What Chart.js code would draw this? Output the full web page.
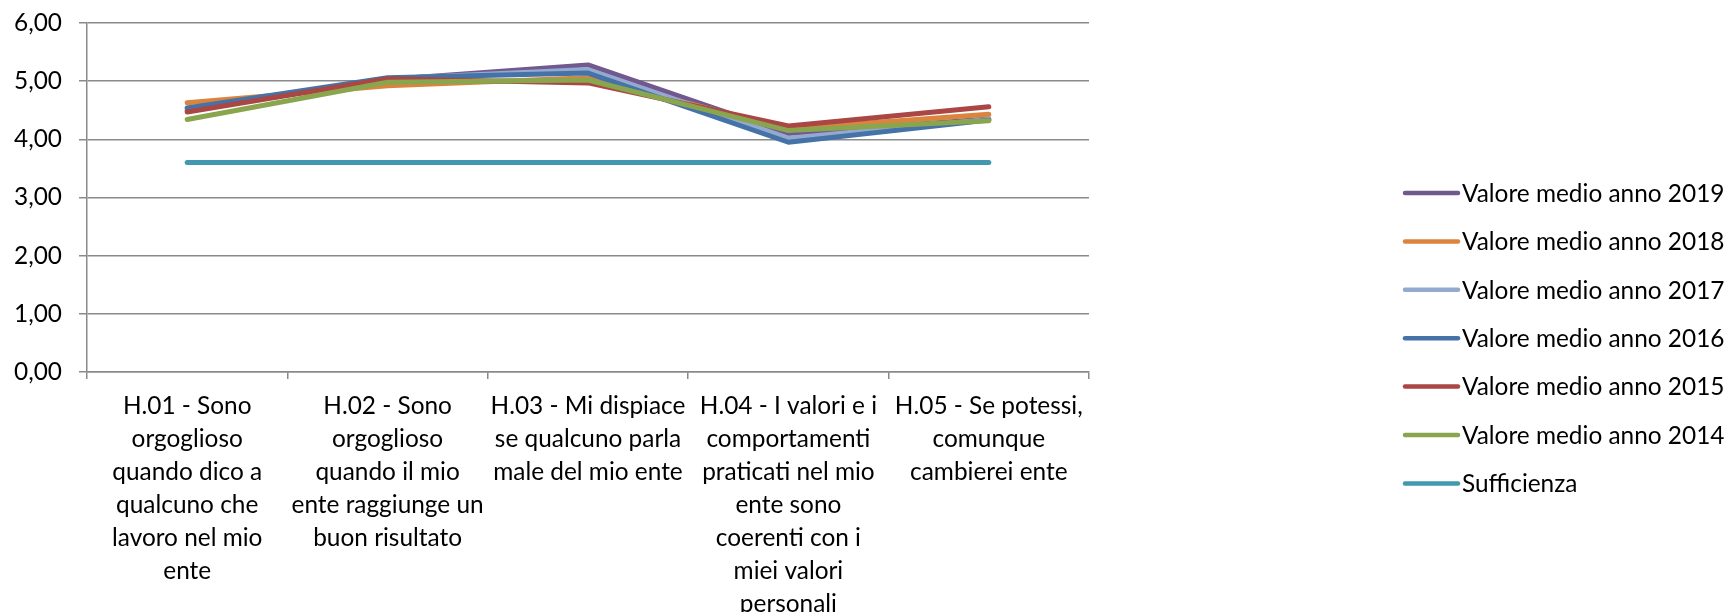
<!DOCTYPE html>
<html>
<head>
<meta charset="utf-8">
<script src="https://cdn.jsdelivr.net/npm/chart.js@4"></script>
<style>
  body { margin: 0; background: #fff; }
  canvas { display: block; }
</style>
</head>
<body>
<canvas id="chart" width="1733" height="612"></canvas>
<script>
// categories (multi-line labels as in the original)
const categories = [
  ['H.01 - Sono', 'orgoglioso', 'quando dico a', 'qualcuno che', 'lavoro nel mio', 'ente'],
  ['H.02 - Sono', 'orgoglioso', 'quando il mio', 'ente raggiunge un', 'buon risultato'],
  ['H.03 - Mi dispiace', 'se qualcuno parla', 'male del mio ente'],
  ['H.04 - I valori e i', 'comportamenti', 'praticati nel mio', 'ente sono', 'coerenti con i', 'miei valori', 'personali'],
  ['H.05 - Se potessi,', 'comunque', 'cambierei ente']
];

const seriesLabels = [
  'Valore medio anno 2019',
  'Valore medio anno 2018',
  'Valore medio anno 2017',
  'Valore medio anno 2016',
  'Valore medio anno 2015',
  'Valore medio anno 2014',
  'Sufficienza'
];

const values2019 = [4.50, 5.03, 5.28, 4.10, 4.35];
const values2018 = [4.63, 4.92, 5.06, 4.18, 4.43];
const values2017 = [4.53, 5.04, 5.20, 4.02, 4.34];
const values2016 = [4.54, 5.06, 5.14, 3.95, 4.33];
const values2015 = [4.47, 5.04, 4.97, 4.23, 4.56];
const values2014 = [4.34, 4.98, 5.02, 4.15, 4.32];
const sufficienza = [3.60, 3.60, 3.60, 3.60, 3.60];

const yTicks = [0, 1, 2, 3, 4, 5, 6];

const colors = ['#71588F', '#DB843D', '#93A9CF', '#4572A7', '#AA4643', '#89A54E', '#4198AF'];
const allValues = [values2019, values2018, values2017, values2016, values2015, values2014, sufficienza];

const FONT = 'Lato';
const FSIZE = 24.4;
const gridColor = '#8a8a8a';

// excel draws later series on top: reverse the draw order
const datasets = allValues.map((vals, i) => ({
  label: seriesLabels[i],
  data: vals,
  borderColor: colors[i],
  backgroundColor: colors[i],
  borderWidth: 5,
  borderCapStyle: 'round',
  borderJoinStyle: 'round',
  pointRadius: 0,
  tension: 0,
  order: -i
}));

// legend drawn at the right, like the original
const sideLegend = {
  id: 'sideLegend',
  afterDraw(chart) {
    const ctx = chart.ctx;
    ctx.save();
    ctx.font = FSIZE + 'px ' + FONT;
    ctx.textBaseline = 'middle';
    ctx.textAlign = 'left';
    chart.data.datasets.forEach((ds, i) => {
      const y = 193 + i * 48.4;
      ctx.strokeStyle = ds.borderColor;
      ctx.lineWidth = 4.5;
      ctx.lineCap = 'round';
      ctx.beginPath();
      ctx.moveTo(1405, y);
      ctx.lineTo(1458, y);
      ctx.stroke();
      ctx.fillStyle = '#000';
      ctx.fillText(ds.label, 1462, y + 1);
    });
    ctx.restore();
  }
};

new Chart(document.getElementById('chart'), {
  type: 'line',
  data: { labels: categories, datasets: datasets },
  options: {
    responsive: false,
    animation: false,
    layout: { padding: { top: 23, right: 644, left: 0, bottom: 0 } },
    plugins: { legend: { display: false }, tooltip: { enabled: false } },
    scales: {
      x: {
        offset: true,
        grid: { offset: true, drawOnChartArea: false, drawTicks: true, tickLength: 7, color: gridColor, lineWidth: 1.5 },
        border: { color: gridColor, width: 1.5 },
        ticks: {
          autoSkip: false, maxRotation: 0, minRotation: 0, padding: 11,
          color: '#000', font: { family: FONT, size: FSIZE, lineHeight: '33px' }
        },
        afterFit(scale) { scale.height = 240; scale.paddingLeft = 0; scale.paddingRight = 0; }
      },
      y: {
        min: 0, max: 6,
        afterBuildTicks(scale) { scale.ticks = yTicks.map(v => ({ value: v })); },
        grid: { color: gridColor, lineWidth: 1.5, tickLength: 8 },
        border: { color: gridColor, width: 1.5 },
        ticks: {
          padding: 17, color: '#000',
          font: { family: FONT, size: FSIZE },
          callback: v => v.toFixed(2).replace('.', ',')
        },
        afterFit(scale) { scale.width = 87; scale.paddingTop = 0; scale.paddingBottom = 0; }
      }
    }
  },
  plugins: [sideLegend]
});
</script>
</body>
</html>
